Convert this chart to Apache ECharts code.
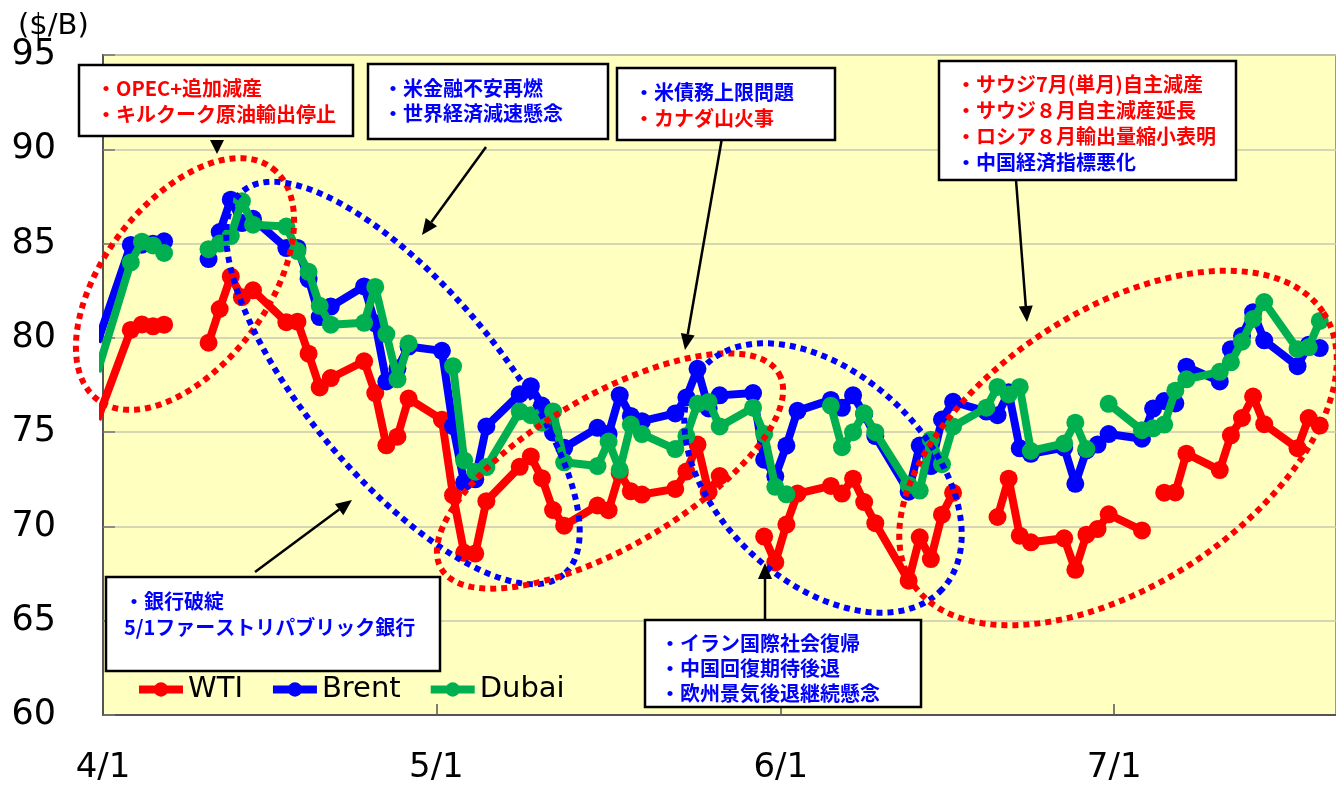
<!DOCTYPE html>
<html><head><meta charset="utf-8">
<script src="https://cdn.jsdelivr.net/npm/echarts@6/dist/echarts.min.js"></script>
<style>html,body{margin:0;padding:0;background:#fff}#c{width:1336px;height:785px}</style>
</head><body><div id="c"></div>
<script>
// ---- data (2023, business days) ----
const dates = ['3/31','4/3','4/4','4/5','4/6','4/7','4/10','4/11','4/12','4/13','4/14','4/17','4/18','4/19','4/20','4/21','4/24','4/25','4/26','4/27','4/28','5/1','5/2','5/3','5/4','5/5','5/8','5/9','5/10','5/11','5/12','5/15','5/16','5/17','5/18','5/19','5/22','5/23','5/24','5/25','5/26','5/29','5/30','5/31','6/1','6/2','6/5','6/6','6/7','6/8','6/9','6/12','6/13','6/14','6/15','6/16','6/19','6/20','6/21','6/22','6/23','6/26','6/27','6/28','6/29','6/30','7/3','7/4','7/5','7/6','7/7','7/10','7/11','7/12','7/13','7/14','7/17','7/18','7/19'];
const wti = [75.67, 80.42,80.71,80.61,80.70,null, 79.74,81.53,83.26,82.16,82.52, 80.83,80.86,79.16,77.37,77.87, 78.76,77.07,74.30,74.76,76.78, 75.66,71.66,68.60,68.56,71.34, 73.16,73.71,72.56,70.87,70.04, 71.11,70.86,72.83,71.86,71.69, 71.99,72.91,74.34,71.83,72.67, null,69.46,68.09,70.10,71.74, 72.15,71.74,72.53,71.29,70.17, 67.12,69.42,68.27,70.62,71.78, null,70.50,72.53,69.51,69.16, 69.37,67.70,69.56,69.86,70.64, 69.79,null,71.79,71.80,73.86, 72.99,74.83,75.75,76.89,75.42, 74.15,75.75,75.35];
const brent = [79.77, 84.93,84.94,84.99,85.12,null, 84.18,85.61,87.33,86.09,86.31, 84.76,84.77,83.12,81.10,81.66, 82.73,80.77,77.69,78.37,79.54, 79.31,75.32,72.33,72.50,75.30, 77.01,77.44,76.41,74.98,74.17, 75.23,74.91,76.96,75.86,75.58, 75.99,76.84,78.36,76.26,76.95, 77.07,73.54,72.66,74.28,76.13, 76.71,76.29,76.95,75.96,74.79, 71.84,74.29,73.20,75.67,76.61, 76.09,75.90,77.12,74.14,73.85, 74.18,72.26,74.03,74.34,74.90, 74.65,76.25,76.65,76.52,78.47, 77.69,79.40,80.11,81.36,79.87, 78.50,79.63,79.46];
const dubai = [78.2, 84.0,85.1,84.9,84.5,null, 84.7,85.0,85.4,87.25,86.0, 85.9,84.6,83.5,81.7,80.7, 80.8,82.7,80.2,77.8,79.7, null,78.5,73.5,72.9,73.15, 76.1,75.9,75.5,76.1,73.4, 73.2,74.5,73.0,75.4,74.9, 74.1,74.8,76.5,76.6,75.3, 76.3,74.9,72.1,71.7,null, 76.4,74.2,75.0,76.0,75.0, 72.2,71.9,74.6,73.3,75.3, 76.3,77.4,77.0,77.4,74.0, 74.4,75.5,74.1,null,76.5, 75.1,75.2,75.4,77.2,77.8, 78.2,78.7,79.8,81.0,81.9, 79.4,79.5,80.9];
const tickDates = ['4/1','5/1','6/1','7/1'];
const yMin = 60, yMax = 95, yStep = 5;
const seriesNames = ['WTI','Brent','Dubai'];

// ---- helpers ----
const MONTH_START = {3:-31, 4:0, 5:30, 6:61, 7:91};
function dayOffset(s){ const p = s.split('/').map(Number); return MONTH_START[p[0]] + p[1] - 1; }
function toData(arr){ return dates.map((d,i)=>[dayOffset(d)+0.5, arr[i]==null ? '-' : arr[i]]); }
const tickVals = tickDates.map(dayOffset);

// ---- annotation geometry (decoration only) ----
const ellipses = [
  {cx:185, cy:284, a:145, b:82, deg:-53, c:'#FF0000'},
  {cx:403, cy:383, a:250, b:96, deg:50, c:'#0000FF'},
  {cx:610, cy:471, a:195, b:76, deg:-30, c:'#FF0000'},
  {cx:823, cy:478, a:163, b:104, deg:43, c:'#0000FF'},
  {cx:1118, cy:448, a:246, b:137, deg:-33.4, c:'#FF0000'}
];
function ellPts(e){
  const pts=[], f=e.deg*Math.PI/180, cf=Math.cos(f), sf=Math.sin(f);
  for(let i=0;i<240;i++){ const t=i/240*2*Math.PI, x=e.a*Math.cos(t), y=e.b*Math.sin(t);
    pts.push([e.cx + x*cf - y*sf, e.cy + x*sf + y*cf]); }
  return pts;
}
const boxes = [
  {x:79, y:65, w:274, h:71, lines:[['・OPEC+追加減産','#FF0000',88],['・キルクーク原油輸出停止','#FF0000',114]], tx:96},
  {x:368, y:64, w:240, h:75, lines:[['・米金融不安再燃','#0000FF',88],['・世界経済減速懸念','#0000FF',113]], tx:383},
  {x:617, y:68, w:218, h:72, lines:[['・米債務上限問題','#0000FF',92],['・カナダ山火事','#FF0000',118]], tx:634},
  {x:939, y:61, w:297, h:119, lines:[['・サウジ7月(単月)自主減産','#FF0000',84],['・サウジ８月自主減産延長','#FF0000',110],['・ロシア８月輸出量縮小表明','#FF0000',136],['・中国経済指標悪化','#0000FF',162]], tx:956},
  {x:106, y:577, w:334, h:94, lines:[['・銀行破綻','#0000FF',601],['5/1ファーストリパブリック銀行','#0000FF',627]], tx:124},
  {x:645, y:620, w:276, h:87, lines:[['・イラン国際社会復帰','#0000FF',643],['・中国回復期待後退','#0000FF',668],['・欧州景気後退継続懸念','#0000FF',693]], tx:660}
];
const arrows = [
  [486,147,422,235],[722,138,685,350],[1016,180,1027,322],[255,572,352,500],[765,620,765,563]
];

const graphics = [];
ellipses.forEach(e=>graphics.push({type:'polygon', z:50, silent:true, shape:{points:ellPts(e)},
  style:{fill:null, stroke:e.c, lineWidth:6, lineDash:[6,5]}}));
function arrow(x1,y1,x2,y2){
  const dx=x2-x1, dy=y2-y1, L=Math.hypot(dx,dy), ux=dx/L, uy=dy/L, hl=16, hw=7;
  const bx=x2-ux*hl, by=y2-uy*hl;
  graphics.push({type:'line', z:55, silent:true, shape:{x1:x1,y1:y1,x2:bx,y2:by}, style:{stroke:'#000', lineWidth:2.5}});
  graphics.push({type:'polygon', z:55, silent:true, shape:{points:[[x2,y2],[bx-uy*hw,by+ux*hw],[bx+uy*hw,by-ux*hw]]}, style:{fill:'#000'}});
}
arrows.forEach(a=>arrow(...a));
graphics.push({type:'polygon', z:55, silent:true, shape:{points:[[210,140],[224,140],[217,154]]}, style:{fill:'#000'}});
boxes.forEach(b=>{
  graphics.push({type:'rect', z:60, silent:true, shape:{x:b.x,y:b.y,width:b.w,height:b.h}, style:{fill:'#fff', stroke:'#000', lineWidth:2.5}});
  b.lines.forEach(l=>graphics.push({type:'text', z:61, silent:true, x:b.tx, y:l[2],
    style:{text:l[0], fill:l[1], font:'bold 20px "Noto Sans CJK JP"', verticalAlign:'middle', align:'left'}}));
});
graphics.push({type:'text', z:61, x:18, y:26, style:{text:'($/B)', fill:'#000', font:'29px "DejaVu Sans"', verticalAlign:'middle'}});

const colors = ['#FF0000','#0000FF','#00B050'];
const chart = echarts.init(document.getElementById('c'));
chart.setOption({
  animation:false,
  textStyle:{fontFamily:'"DejaVu Sans"'},
  grid:{left:103, right:-3, top:55, bottom:67, show:true, backgroundColor:'#FFFFC0', borderColor:'#999', borderWidth:2},
  xAxis:{type:'value', min:0, max:110.96,
    axisLine:{show:true, onZero:false, lineStyle:{color:'#555', width:2}},
    axisTick:{show:true, inside:true, length:11, customValues:tickVals, lineStyle:{color:'#555', width:1.5}},
    axisLabel:{customValues:tickVals, fontSize:34, color:'#000', margin:36,
      formatter:v=>{const i=tickVals.indexOf(v); return i>=0?tickDates[i]:'';}},
    splitLine:{show:false}},
  yAxis:{type:'value', min:yMin, max:yMax, interval:yStep,
    axisLine:{show:true, lineStyle:{color:'#555', width:2}},
    axisTick:{show:true, inside:true, length:12, lineStyle:{color:'#777', width:1.5}},
    axisLabel:{fontSize:35, color:'#000', margin:47},
    splitLine:{show:true, lineStyle:{color:'#C8C8B0', width:1.5}}},
  legend:{data:seriesNames, left:135, top:675, itemWidth:44, itemHeight:18, itemGap:26, padding:0,
    lineStyle:{width:8}, itemStyle:{borderWidth:0},
    textStyle:{fontSize:29, color:'#000', fontFamily:'"DejaVu Sans"'}},
  color:colors,
  series:[wti,brent,dubai].map((arr,i)=>({name:seriesNames[i], type:'line', data:toData(arr),
    symbol:'circle', symbolSize:18, showAllSymbol:true, connectNulls:false, clip:true,
    lineStyle:{width:8, color:colors[i]}, itemStyle:{color:colors[i]}, z:2+i})),
  graphic:graphics
});
</script></body></html>
